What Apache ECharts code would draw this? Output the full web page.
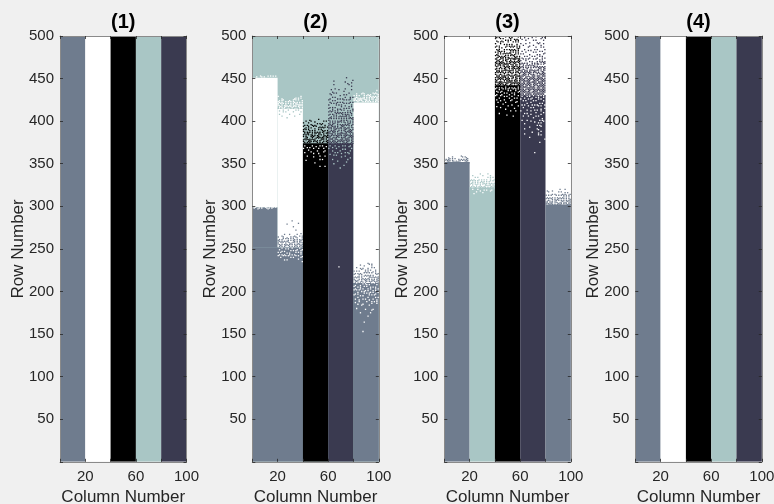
<!DOCTYPE html>
<html><head><meta charset="utf-8">
<style>html,body{margin:0;padding:0;background:#f0f0f0}#c{width:774px;height:504px}</style>
<script src="https://cdn.jsdelivr.net/npm/echarts@6/dist/echarts.min.js"></script>
</head><body><div id="c"></div>
<script>
const panelTitles = ['(1)','(2)','(3)','(4)'];
const columnLabels = [20,60,100];
const palette = {s:'#6f7c8e', w:'#ffffff', k:'#000000', t:'#a9c6c5', d:'#3a3a50'};

// solid regions: [firstColumn, lastColumn, bottomRow, topRow, colour]
const panel1Blocks = [[0,20,0,500,'s'],[20,40,0,500,'w'],[40,60,0,500,'k'],[60,80,0,500,'t'],[80,100,0,500,'d']];
const panel2Blocks = [
 [0,100,0,500,'t'],
 [0,40,0,252,'s'],[0,20,252,299,'s'],[0,20,299,451,'w'],
 [20,40,252,415,'w'],
 [40,60,0,374,'k'],
 [60,80,0,374,'d'],
 [80,100,0,210,'s'],[80,100,210,422,'w']];
const panel3Blocks = [
 [0,100,0,500,'w'],
 [0,20,0,352,'s'],
 [20,40,0,322,'t'],
 [40,60,0,442,'k'],
 [60,80,0,430,'d'],
 [80,100,0,302,'s']];
const panel4Blocks = panel1Blocks;

// speckle maps: each text line is a 2-row strip, each character one column
const p2Edge1Top = {col:0,row:453,c:'w',m:[
 "...#..##.#..#.#.#.#."]};
const p2Edge1Low = {col:0,row:299,c:'w',m:[
 ".##..#.#..##.#.##.#.",
 "....#.......#......."]};
const p2Band2Top = {col:20,row:429,c:'w',m:[
 "#.................#.",
 "...#.........##.#.#.",
 ".#.##....#..#.#.#..#",
 "##.#..#.#.#.##.#.#.#",
 "#.###.#.#.#.#.##.#.#",
 "##.#.###.##.###.####",
 ".###.##.#.###.#.##.#"]};
const p2Band2Inner = {col:20,row:415,c:'t',m:[
 "#.#...#...#.#...#.#.",
 ".#..#...#.....#.#...",
 "....#.#.....#.....#.",
 ".#.......#.......#..",
 "...#.........#......",
 ".......#............"]};
const p2Band2Low = {col:20,row:286,c:'s',m:[
 "....................",
 "...........#........",
 "....................",
 ".......#........#...",
 "....................",
 "............#.......",
 "....................",
 "..............#.....",
 "....................",
 ".....#...#.....#..#.",
 "...#.........#...#.#",
 "#...#..#..#.#.##...#",
 ".#.##.#.#.#.##.#.#.#",
 "##.#.#.##.#.##.#.##.",
 "#.###.#.##.###.#.###",
 "##.#.###.###.#.###.#",
 ".###.##.##.#.###.###"]};
const p2Band2Low2 = {col:20,row:252,c:'w',m:[
 "...#.......#.....#..",
 ".#....#.#......#...#",
 "...#.#....#.#.#...#.",
 "#.#....#.#....#.#.#.",
 ".#.#.#...#.#.#....#.",
 "#...#.#.#.....#.#..#",
 "..#.......#.#.....#.",
 ".....#.#........#...",
 "...................#"]};
const p2Band3 = {col:40,row:402,c:'k',m:[
 ".....#......#.......",
 "..#...#..#......#.#.",
 "#...#......#.#.#....",
 ".#.#..##.#....#..#..",
 "#...#...#.#..#.#.#.#",
 ".##.#.#..#..#.#.#...",
 "#.#.##.#.#..#.##.#.#",
 "##.#.#.#.#.#.#.##..#",
 ".#.##..#.##.##..#.##",
 "#.#.#.##.#.##.#.##.#",
 "#.##..###..###.##.##",
 ".###.#.#.##.#.###.#.",
 "#.#.###.##.#.##.#.##",
 "##.####.#.##.#.##.##"]};
const p2Band3Inner = {col:40,row:372,c:'w',m:[
 ".#.....#.....#.#....",
 "...#.#....#.......#.",
 "#.......#...#...#...",
 "....#......#.....#..",
 ".#....#.........#...",
 "........#...#.......",
 "...#.........#...#..",
 "........#...........",
 ".............#.#....",
 "..#.................",
 ".........#..........",
 "....................",
 ".............#...#..",
 "....................",
 "...................."]};
const p2Band4 = {col:60,row:451,c:'d',m:[
 "..............#.....",
 "...................#",
 "....#........#......",
 "...............#..#.",
 "....#...........#...",
 "..................#.",
 ".....#.......#......",
 "..#.....#.........#.",
 "...#........#.......",
 ".#..#.#.........#...",
 "..#......#..#.#.....",
 "...#.#.......#...#.#",
 ".#.....#.#.#.....#..",
 "#..#.#......#.#.#...",
 ".#.....#.#.#.....#.#",
 "..#.#.#.....#.#.#...",
 "#.....#.#.#..#....#.",
 ".#.#.#....#.....#.#.",
 "#..#...#.#..#.#.#..#",
 ".#.#.#.#..#.#..#.#.#",
 "#.#..#.#.#.#.#.#.#..",
 ".#.#..#.#.##.#.#..#.",
 "#...#.#..#.#.##.#.#.",
 ".##.#.#.#.#.#.#.##.#",
 "#.#.#.#.#.#.#.#.#.##",
 "##.#.#.#.##.#.##.#.#",
 ".#.#.#.##.#.##.#.#.#",
 "##.##..#.#.#.#.##..#",
 "#.##.#.#..###.#.#.#.",
 "###.##.#.##.##.##.##",
 "#.#.###.#.#.###.##.#",
 ".#####.##.#.##.####.",
 "##.###.#.###.##.####",
 "#.##.#.####.####.#.#",
 "###.#.###.#.###.####",
 "##.####.#.####.##.##",
 "####.###.###.####.##",
 "##.###.######.###.##",
 "###.####.#.#####.###"]};
const p2Band4Inner = {col:60,row:372,c:'t',m:[
 ".#...#.....#.#...#..",
 "...#....#.......#...",
 "#.....#....#.#....#.",
 "...#.....#.......#..",
 ".....#.#.....#.#....",
 ".#........#.....#...",
 "....#.#......#......",
 "..........#......#..",
 "...#...........#....",
 ".......#............",
 "..............#.....",
 "....#...............",
 "............#.......",
 ".........#..........",
 "...................."]};
const p2Band4Far = {col:60,row:229,c:'w',m:["........#..........."]};
const p2Band5Top = {col:80,row:436,c:'w',m:[
 "..................#.",
 ".......#.......#.#..",
 "..#...#.#..#.#..#.##",
 "#.#.#...#.#.##.#.#.#",
 ".###.#.##.#.#.###.##",
 "##.####.###.#.##.###",
 "#.###.##.#####.#.###"]};
const p2Band5Low = {col:80,row:234,c:'s',m:[
 "...........#........",
 ".....#......#.#.....",
 "........#.....#.....",
 "..#..#.#...#..#.#...",
 "......#..#.#.#...#..",
 "#.#.#....#.#...#.#..",
 ".#.#.#..#.#.#.#..#.#",
 "#...#.#..#.#.#.#..#.",
 ".#.##.#.#.#.##.#.#.#",
 "#.#.#.##.#.##.#.#.##",
 "##.##.#.###.#.###.##",
 ".###.###.##.###.####"]};
const p2Band5Inner = {col:80,row:210,c:'w',m:[
 "..#....#.#....#.#...",
 ".#...#....#.#.....#.",
 "#..#.#..#.#..#.#.#..",
 ".#...#.#...#.#...#.#",
 "#.#.#....#.#...#.#..",
 "...#..#.#....#.#...#",
 ".#.#....#.#.#....#..",
 "#....#.#....#.#.#...",
 "...#.......#.....#.#",
 ".#.....#.#.....#....",
 "....#.......#.....#.",
 ".#..#.....#...#.#.#.",
 "...#...#......#...#.",
 "......#.....#.......",
 "....................",
 "..#......#.....#....",
 "..............#.....",
 ".....#.......#......",
 "....................",
 "...........#........",
 "....................",
 "....................",
 "....................",
 "........#...........",
 "....................",
 "....................",
 "....................",
 "....................",
 ".......#............",
 "...................."]};

const p3Band1 = {col:0,row:360,c:'s',m:[
 ".............#......",
 "...#..#.......#.##..",
 ".#.##.#.#..#.#.#.##.",
 "#.###.##.#.##.#.###.",
 ".####.###.####.##.##"]};
const p3Band2 = {col:20,row:338,c:'t',m:[
 "........#.....#.....",
 "..#.......#.....#...",
 "....#.#.......#.#.#.",
 ".#.#...#.#.#.#..#..#",
 "#.#.#.#..#.#.#.##.#.",
 ".##.#.#.#.##.#.#.#.#",
 "#.#.###.#.#.##.##.##",
 ".###.#.###.##.#.####",
 "##.###.##.###.###.##"]};
const p3Band2Inner = {col:20,row:320,c:'w',m:[
 "..#...#....#.#...#..",
 ".....#..#.......#...",
 "...#......#........."]};
const p3Band3 = {col:40,row:499,c:'k',m:[
 ".#.#....#..#.#....#.",
 "#...#.#.....#..#.#..",
 ".#...#..#.#.#...#.#.",
 "..#.#.#...#...#.#.#.",
 "#...#..#.#.#.#...#..",
 ".#.#.....#.#.#.#.#.#",
 "#..#.#..#...#.#..#.#",
 ".#.#...#.#.#.#.#..#.",
 "..##.#.#....#.#.#.#.",
 "#.#.#..#.#.##.#.#.#.",
 ".##.#.#.#.#.##.##.#.",
 "#.##.#.##.#.#.##.#.#",
 ".##.###.#.##.#.###.#",
 "##.##.#.###.#.###.##",
 ".###.##.##.###.#.###",
 "##.#####.#.##.###.##",
 "#.###.#####.###.##.#",
 "###.#.##.###.#####.#",
 ".#.###.##.##.###.###",
 "##.#.#.###.#.##.#.##",
 ".###.##.#.###.#.###.",
 "#.#.#.###.#.###.#.##",
 "##.###.#.###.#.###.#",
 ".###.####.#.###.####",
 "#.#####.####.##.##.#",
 "###.#.######.#.###.#",
 "##.###.#.#####.###.#",
 "#.#####.###.########",
 "#####.####.###.#.###",
 "###.######.#########"]};
const p3Band3Inner = {col:40,row:440,c:'w',m:[
 ".#.#.#..#..#.#.#..#.",
 "#..#..#.#.#...#.#.#.",
 ".#...#....#.#...#..#",
 "..#.#..#.#...#.#..#.",
 ".#...#.....#...#....",
 "#...#..#.#...#....#.",
 "...#.......#...#.#..",
 ".#.....#.....#......",
 "....#.......#....#..",
 "..#.....#.......#...",
 "......#......#......",
 ".#........#.......#.",
 "....#..........#....",
 "........#...........",
 "............#...#...",
 "...#................",
 ".........#..........",
 "..............#.....",
 "...................."]};
const p3Band4 = {col:60,row:499,c:'d',m:[
 "...#.....#..#....#.#",
 ".#....#.........#...",
 "....#.....#.#.....#.",
 ".......#.....#.#....",
 "#...#.........#...#.",
 "..#....#..#.....#...",
 "......#.....#...#.#.",
 "...#.......#.#.....#",
 ".#....#.#......#.#..",
 "....#.....#.#......#",
 "#.#....#.....#.#..#.",
 "...#.#...#.#...#.#..",
 ".#.....#.....#...#.#",
 "..#.#.#...#.#..#.#..",
 "#...#..#.#...#.#.#.#",
 ".#.#.#...#.#.#..#.##",
 "#.#..#.#.#.#.##.#.#.",
 ".##.#.#.#.##.#.#.#.#",
 "#.#.###.#.#.#.###.##",
 ".###.#.###.#.##.#.##",
 "##.###.##.###.#.###.",
 "#.###.###.#.####.###",
 ".####.#.####.#.#####",
 "###.####.###.###.###",
 "##.###.#####.#####.#",
 "####.####.#####.####",
 "#.######.####.######",
 "####.####.########.#",
 "###.#####.####.#####",
 "######.#####.#######",
 "###.########.###.###",
 "#####.###.##########",
 "########.#####.#####",
 "###.#####.#########.",
 "#######.#####.######"]};
const p3Band4Inner = {col:60,row:430,c:'w',m:[
 ".#...#.#..#...#.#.#.",
 "...#.....#..#.#...#.",
 "#.....#.#.....#.#...",
 "..#.#.....#.#.....#.",
 ".....#..#......#.#..",
 ".#.#.....#.#.#.....#",
 "......#.......#.#...",
 "..#.....#.#........#",
 ".....#.....#.#..#...",
 "#.......#.......#...",
 "...#.#......#.....#.",
 "........#.......#...",
 "..#...#.....#.#.....",
 "..........#......#..",
 ".#...#.........#.#..",
 "........#..#......#.",
 "...#..........#.#...",
 ".............#.#....",
 ".......#........#...",
 "...#.........#......",
 "..............#.....",
 ".........#......#...",
 "...#..........#.....",
 "..............#.#...",
 ".......#............",
 "...................#",
 "....................",
 "...............#....",
 "....................",
 "....................",
 "....................",
 "....................",
 "....................",
 "...........#........"]};
const p3Band5 = {col:80,row:321,c:'s',m:[
 "...........#...#....",
 ".#...#..............",
 "..#.......#.#..#.#..",
 ".....#.#.....#.#...#",
 "#.#.#...#.#.#.#.#.#.",
 ".#.#.#.#.#.#.##.#.#.",
 "#.#.##.#.##.#.#.#.##",
 ".###.#.##.#.###.####",
 "##.###.###.##.###.##",
 "#.####.#.####.#.####"]};

const panel1Specks = [];
const panel2Specks = [p2Edge1Top,p2Edge1Low,p2Band2Top,p2Band2Inner,p2Band2Low,p2Band2Low2,p2Band3,p2Band3Inner,p2Band4,p2Band4Inner,p2Band4Far,p2Band5Top,p2Band5Low,p2Band5Inner];
const panel3Specks = [p3Band1,p3Band2,p3Band2Inner,p3Band3,p3Band3Inner,p3Band4,p3Band4Inner,p3Band5];
const panel4Specks = [];

const panelBlocks = [panel1Blocks,panel2Blocks,panel3Blocks,panel4Blocks];
const panelSpecks = [panel1Specks,panel2Specks,panel3Specks,panel4Specks];
const panelLeft = [60,252.3,444.3,635.3];
const plotW = 126.5, plotTop = 36, plotH = 425.8;
const ink = '#262626', edge = '#8a8a8a';

const grids=[],xAxes=[],yAxes=[],series=[],titles=[];
// odd columns sit one row lower, so a map's strips do not read as horizontal lines
function expand(s){const pts=[];s.m.forEach((line,r)=>{for(let i=0;i<line.length;i++){if(line[i]==='#')pts.push([s.col+i+0.5,s.row-2*r-(i%2)]);}});return pts;}

panelBlocks.forEach((blocks,p)=>{
  grids.push({left:panelLeft[p],top:plotTop,width:plotW,height:plotH,containLabel:false,outerBoundsMode:'none'});
  titles.push({text:panelTitles[p],left:panelLeft[p]+plotW/2,top:12,padding:0,textAlign:'center',
    textStyle:{fontFamily:'Liberation Sans',fontWeight:'bold',fontSize:20,color:'#000'}});
  const tickStyle={show:true,inside:true,length:3,lineStyle:{color:ink,width:0.8}};
  const lineStyle={show:true,onZero:false,lineStyle:{color:edge,width:1}};
  xAxes.push({gridIndex:p,type:'value',min:0,max:100,interval:20,position:'bottom',z:10,
    axisLine:lineStyle,axisTick:tickStyle,splitLine:{show:false},
    name:'Column Number',nameLocation:'middle',nameGap:27,nameMoveOverlap:false,
    nameTextStyle:{fontFamily:'Liberation Sans',fontSize:17,color:ink},
    axisLabel:{fontFamily:'Liberation Sans',fontSize:15,color:ink,margin:8,showMinLabel:true,hideOverlap:false,
      formatter:v=>columnLabels.includes(v)?String(v):''}});
  xAxes.push({gridIndex:p,type:'value',min:0,max:100,interval:20,position:'top',z:10,
    axisLine:lineStyle,axisTick:tickStyle,splitLine:{show:false},axisLabel:{show:false}});
  yAxes.push({gridIndex:p,type:'value',min:0,max:500,interval:50,position:'left',z:10,
    axisLine:lineStyle,axisTick:tickStyle,splitLine:{show:false},
    name:'Row Number',nameLocation:'middle',nameGap:33,nameMoveOverlap:false,
    nameTextStyle:{fontFamily:'Liberation Sans',fontSize:17,color:ink},
    axisLabel:{fontFamily:'Liberation Sans',fontSize:15,color:ink,margin:6,
      formatter:v=>v===0?'':String(v)}});
  yAxes.push({gridIndex:p,type:'value',min:0,max:500,interval:50,position:'right',z:10,
    axisLine:lineStyle,axisTick:tickStyle,splitLine:{show:false},axisLabel:{show:false}});
  series.push({type:'custom',xAxisIndex:2*p,yAxisIndex:2*p,silent:true,z:1,clip:true,
    data:blocks.map(b=>[b[0],b[1],b[2],b[3]]),
    encode:{x:[0,1],y:[2,3]},
    renderItem:(params,api)=>{
      const a=api.coord([api.value(0),api.value(3)]),b=api.coord([api.value(1),api.value(2)]);
      return {type:'rect',shape:{x:a[0],y:a[1],width:b[0]-a[0],height:b[1]-a[1]},
        style:{fill:palette[blocks[params.dataIndex][4]]}};
    }});
  panelSpecks[p].forEach(s=>{
    series.push({type:'scatter',xAxisIndex:2*p,yAxisIndex:2*p,silent:true,z:2,animation:false,
      symbol:'rect',symbolSize:[1.3,1.3],itemStyle:{color:palette[s.c],opacity:1},data:expand(s)});
  });
});

const chart=echarts.init(document.getElementById('c'),null,{renderer:'canvas'});
chart.setOption({animation:false,backgroundColor:'#f0f0f0',title:titles,grid:grids,xAxis:xAxes,yAxis:yAxes,series});
</script></body></html>
